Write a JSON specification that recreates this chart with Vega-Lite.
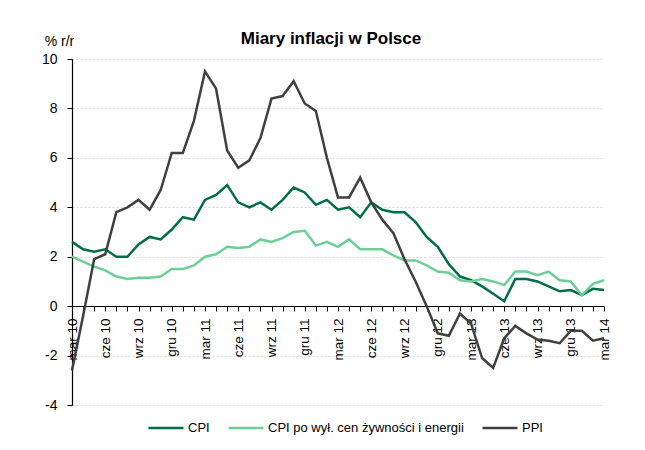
{
  "$schema": "https://vega.github.io/schema/vega-lite/v6.json",
  "autosize": "none",
  "width": 532,
  "height": 346,
  "padding": {"left": 72, "top": 59, "right": 41, "bottom": 45},
  "background": "white",
  "title": {"text": "Miary inflacji w Polsce", "font": "Liberation Sans", "fontSize": 17, "fontWeight": "bold", "color": "black", "anchor": "middle", "offset": -14, "dx": -7},
  "config": {"view": {"stroke": null}, "font": "Liberation Sans"},
  "datasets": {
    "src": [
      {"m":"mar 10","CPI":2.6,"Core":2.0,"PPI":-2.6},
      {"m":"kwi 10","CPI":2.3,"Core":1.8,"PPI":-0.4},
      {"m":"maj 10","CPI":2.2,"Core":1.6,"PPI":1.9},
      {"m":"cze 10","CPI":2.3,"Core":1.45,"PPI":2.1},
      {"m":"lip 10","CPI":2.0,"Core":1.2,"PPI":3.8},
      {"m":"sie 10","CPI":2.0,"Core":1.1,"PPI":4.0},
      {"m":"wrz 10","CPI":2.5,"Core":1.15,"PPI":4.3},
      {"m":"paź 10","CPI":2.8,"Core":1.15,"PPI":3.9},
      {"m":"lis 10","CPI":2.7,"Core":1.2,"PPI":4.7},
      {"m":"gru 10","CPI":3.1,"Core":1.5,"PPI":6.2},
      {"m":"sty 11","CPI":3.6,"Core":1.5,"PPI":6.2},
      {"m":"lut 11","CPI":3.5,"Core":1.65,"PPI":7.5},
      {"m":"mar 11","CPI":4.3,"Core":2.0,"PPI":9.5},
      {"m":"kwi 11","CPI":4.5,"Core":2.1,"PPI":8.8},
      {"m":"maj 11","CPI":4.9,"Core":2.4,"PPI":6.3},
      {"m":"cze 11","CPI":4.2,"Core":2.35,"PPI":5.6},
      {"m":"lip 11","CPI":4.0,"Core":2.4,"PPI":5.9},
      {"m":"sie 11","CPI":4.2,"Core":2.7,"PPI":6.8},
      {"m":"wrz 11","CPI":3.9,"Core":2.6,"PPI":8.4},
      {"m":"paź 11","CPI":4.3,"Core":2.75,"PPI":8.5},
      {"m":"lis 11","CPI":4.8,"Core":3.0,"PPI":9.1},
      {"m":"gru 11","CPI":4.6,"Core":3.05,"PPI":8.2},
      {"m":"sty 12","CPI":4.1,"Core":2.45,"PPI":7.9},
      {"m":"lut 12","CPI":4.3,"Core":2.6,"PPI":6.0},
      {"m":"mar 12","CPI":3.9,"Core":2.4,"PPI":4.4},
      {"m":"kwi 12","CPI":4.0,"Core":2.7,"PPI":4.4},
      {"m":"maj 12","CPI":3.6,"Core":2.3,"PPI":5.2},
      {"m":"cze 12","CPI":4.2,"Core":2.3,"PPI":4.2},
      {"m":"lip 12","CPI":3.9,"Core":2.3,"PPI":3.5},
      {"m":"sie 12","CPI":3.8,"Core":2.05,"PPI":2.95},
      {"m":"wrz 12","CPI":3.8,"Core":1.85,"PPI":1.9},
      {"m":"paź 12","CPI":3.4,"Core":1.85,"PPI":1.0},
      {"m":"lis 12","CPI":2.8,"Core":1.65,"PPI":0.0},
      {"m":"gru 12","CPI":2.4,"Core":1.4,"PPI":-1.1},
      {"m":"sty 13","CPI":1.7,"Core":1.35,"PPI":-1.2},
      {"m":"lut 13","CPI":1.2,"Core":1.05,"PPI":-0.3},
      {"m":"mar 13","CPI":1.05,"Core":1.0,"PPI":-0.7},
      {"m":"kwi 13","CPI":0.8,"Core":1.1,"PPI":-2.1},
      {"m":"maj 13","CPI":0.5,"Core":1.0,"PPI":-2.5},
      {"m":"cze 13","CPI":0.2,"Core":0.85,"PPI":-1.3},
      {"m":"lip 13","CPI":1.1,"Core":1.4,"PPI":-0.8},
      {"m":"sie 13","CPI":1.1,"Core":1.4,"PPI":-1.1},
      {"m":"wrz 13","CPI":1.0,"Core":1.25,"PPI":-1.35},
      {"m":"paź 13","CPI":0.8,"Core":1.4,"PPI":-1.4},
      {"m":"lis 13","CPI":0.6,"Core":1.05,"PPI":-1.5},
      {"m":"gru 13","CPI":0.65,"Core":1.0,"PPI":-1.0},
      {"m":"sty 14","CPI":0.45,"Core":0.45,"PPI":-1.0},
      {"m":"lut 14","CPI":0.7,"Core":0.9,"PPI":-1.4},
      {"m":"mar 14","CPI":0.65,"Core":1.05,"PPI":-1.3}
    ]
  },
  "data": {"name": "src"},
  "transform": [
    {"fold": ["CPI", "Core", "PPI"], "as": ["k", "v"]},
    {"lookup": "k", "from": {"data": {"values": [
      {"k": "CPI", "s": "CPI"},
      {"k": "Core", "s": "CPI po wył. cen żywności i energii"},
      {"k": "PPI", "s": "PPI"}
    ]}, "key": "k", "fields": ["s"]}}
  ],
  "mark": {"type": "line", "strokeWidth": 2.5, "strokeJoin": "miter"},
  "encoding": {
    "x": {
      "field": "m", "type": "ordinal", "sort": null,
      "scale": {"type": "point", "padding": 0},
      "axis": {
        "title": null, "offset": -99, "domainColor": "black", "domainWidth": 1.2,
        "tickColor": "black", "tickSize": 5, "grid": false,
        "labelAngle": -90, "labelAlign": "right", "labelBaseline": "middle",
        "labelFont": "Liberation Sans", "labelFontSize": 13.5, "labelColor": "black",
        "labelPadding": 7, "labelOverlap": false,
        "labelExpr": "indexof(['mar','cze','wrz','gru'], slice(datum.label,0,3)) >= 0 ? datum.label : ''"
      }
    },
    "y": {
      "field": "v", "type": "quantitative",
      "scale": {"domain": [-4, 10], "nice": false, "zero": false},
      "axis": {
        "values": [-4, -2, 0, 2, 4, 6, 8, 10],
        "labelExpr": "'' + datum.value",
        "title": "% r/r", "titleAngle": 0, "titleX": -13, "titleY": -18,
        "titleAlign": "center", "titleBaseline": "middle",
        "titleFont": "Liberation Sans", "titleFontSize": 14, "titleFontWeight": "normal", "titleColor": "black",
        "domainColor": "black", "domainWidth": 1.2, "tickColor": "black", "tickSize": 5,
        "labelFont": "Liberation Sans", "labelFontSize": 14, "labelColor": "black", "labelPadding": 10,
        "grid": true, "gridColor": "#d9d9d9", "gridDash": [2, 2], "gridWidth": 1
      }
    },
    "color": {
      "field": "s", "type": "nominal",
      "scale": {"domain": ["CPI", "CPI po wył. cen żywności i energii", "PPI"], "range": ["#006e46", "#6ccf96", "#404040"]},
      "legend": {
        "title": null, "orient": "none", "direction": "horizontal",
        "legendX": 75, "legendY": 350,
        "symbolType": "stroke", "symbolSize": 1225, "symbolStrokeWidth": 2.5,
        "labelFont": "Liberation Sans", "labelFontSize": 13, "labelColor": "black",
        "labelOffset": 3, "columnPadding": 13, "labelLimit": 400
      }
    }
  }
}
